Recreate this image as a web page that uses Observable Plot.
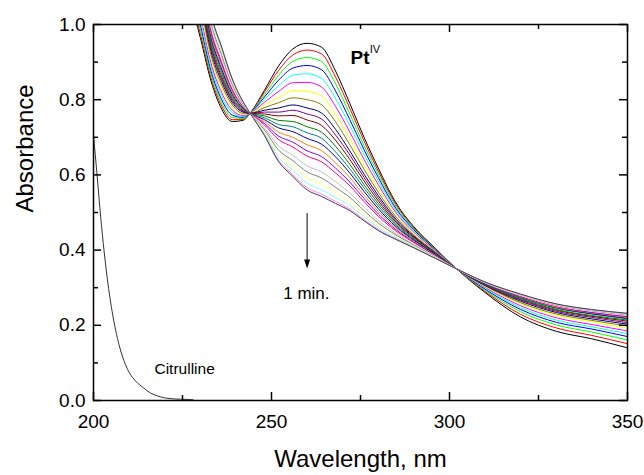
<!DOCTYPE html>
<html><head><meta charset="utf-8">
<script src="https://cdn.jsdelivr.net/npm/d3@7"></script>
<script src="https://cdn.jsdelivr.net/npm/@observablehq/plot@0.6"></script>
<style>body{margin:0;background:#fff}</style>
</head><body><div id="chart"></div>
<script>
// Wavelength grid (nm) shared by the 24 Pt(IV) spectra
const wl = [227,230,233,236,239,242,244,248,252,256,260,264,268,272,276,280,285,290,296,302,310,320,330,340,350];

// Absorbance spectra, first (t=0, black) to last (dark gray)
const s00 = [1.07,0.965,0.850,0.775,0.742,0.745,0.764,0.825,0.890,0.935,0.950,0.940,0.876,0.790,0.700,0.618,0.525,0.462,0.405,0.350,0.287,0.222,0.184,0.164,0.140];
const s01 = [1.085,0.976,0.858,0.783,0.747,0.747,0.764,0.820,0.878,0.919,0.932,0.922,0.860,0.777,0.690,0.610,0.521,0.459,0.404,0.350,0.290,0.229,0.193,0.173,0.151];
const s02 = [1.102,0.988,0.868,0.791,0.753,0.750,0.764,0.813,0.865,0.902,0.912,0.902,0.842,0.762,0.678,0.602,0.516,0.457,0.402,0.350,0.293,0.236,0.201,0.182,0.161];
const s03 = [1.120,1.000,0.877,0.800,0.759,0.753,0.764,0.807,0.852,0.884,0.891,0.880,0.823,0.747,0.667,0.593,0.510,0.454,0.401,0.350,0.296,0.242,0.208,0.190,0.170];
const s04 = [1.139,1.014,0.887,0.809,0.766,0.755,0.764,0.800,0.837,0.865,0.869,0.857,0.803,0.731,0.654,0.584,0.505,0.450,0.399,0.350,0.299,0.247,0.214,0.196,0.178];
const s05 = [1.158,1.028,0.898,0.819,0.772,0.758,0.764,0.793,0.822,0.845,0.846,0.834,0.782,0.714,0.641,0.574,0.499,0.447,0.398,0.350,0.301,0.252,0.220,0.202,0.185];
const s06 = [1.178,1.042,0.909,0.829,0.779,0.761,0.764,0.786,0.806,0.824,0.822,0.810,0.761,0.697,0.627,0.564,0.493,0.444,0.396,0.350,0.303,0.257,0.226,0.209,0.192];
const s07 = [1.197,1.056,0.919,0.839,0.786,0.764,0.764,0.779,0.792,0.805,0.800,0.787,0.741,0.680,0.615,0.554,0.488,0.440,0.395,0.350,0.305,0.260,0.230,0.213,0.198];
const s08 = [1.216,1.069,0.929,0.848,0.792,0.767,0.764,0.772,0.778,0.786,0.778,0.765,0.721,0.664,0.602,0.545,0.482,0.437,0.393,0.350,0.306,0.264,0.234,0.217,0.203];
const s09 = [1.229,1.078,0.937,0.855,0.797,0.769,0.764,0.767,0.767,0.772,0.762,0.749,0.706,0.653,0.593,0.538,0.478,0.435,0.392,0.350,0.307,0.267,0.237,0.221,0.207];
const s10 = [1.243,1.088,0.944,0.861,0.801,0.771,0.764,0.762,0.757,0.758,0.746,0.732,0.692,0.641,0.584,0.531,0.474,0.433,0.391,0.350,0.309,0.269,0.240,0.224,0.211];
const s11 = [1.258,1.099,0.952,0.869,0.806,0.774,0.764,0.757,0.745,0.742,0.728,0.714,0.676,0.628,0.574,0.524,0.470,0.430,0.390,0.350,0.309,0.271,0.242,0.226,0.214];
const s12 = [1.271,1.108,0.960,0.876,0.811,0.776,0.764,0.752,0.734,0.728,0.712,0.698,0.661,0.616,0.565,0.517,0.466,0.428,0.389,0.350,0.311,0.273,0.245,0.230,0.217];
const s13 = [1.284,1.118,0.967,0.882,0.815,0.778,0.764,0.747,0.725,0.715,0.697,0.682,0.648,0.605,0.556,0.510,0.462,0.426,0.388,0.350,0.311,0.275,0.247,0.231,0.219];
const s14 = [1.298,1.128,0.975,0.889,0.820,0.780,0.764,0.742,0.714,0.700,0.680,0.665,0.632,0.593,0.546,0.503,0.458,0.423,0.386,0.350,0.312,0.276,0.248,0.233,0.221];
const s15 = [1.312,1.137,0.982,0.896,0.825,0.782,0.764,0.737,0.703,0.687,0.664,0.649,0.618,0.581,0.537,0.496,0.454,0.421,0.385,0.350,0.312,0.277,0.250,0.234,0.223];
const s16 = [1.324,1.146,0.988,0.902,0.829,0.784,0.764,0.733,0.694,0.674,0.650,0.635,0.605,0.571,0.529,0.490,0.450,0.419,0.384,0.350,0.313,0.278,0.251,0.236,0.225];
const s17 = [1.335,1.154,0.995,0.908,0.833,0.785,0.764,0.729,0.685,0.663,0.637,0.621,0.593,0.561,0.522,0.485,0.447,0.417,0.383,0.350,0.313,0.279,0.252,0.237,0.226];
const s18 = [1.346,1.162,1.001,0.913,0.837,0.787,0.764,0.725,0.677,0.652,0.624,0.608,0.582,0.552,0.514,0.479,0.444,0.415,0.382,0.350,0.314,0.280,0.253,0.238,0.227];
const s19 = [1.359,1.171,1.008,0.920,0.841,0.789,0.764,0.720,0.666,0.638,0.608,0.592,0.567,0.540,0.505,0.472,0.440,0.413,0.381,0.350,0.314,0.281,0.254,0.239,0.228];
const s20 = [1.373,1.181,1.015,0.927,0.846,0.791,0.764,0.715,0.656,0.624,0.592,0.576,0.553,0.528,0.496,0.466,0.436,0.411,0.380,0.350,0.314,0.281,0.255,0.240,0.229];
const s21 = [1.385,1.189,1.022,0.932,0.850,0.793,0.764,0.711,0.647,0.612,0.578,0.561,0.540,0.518,0.488,0.460,0.433,0.409,0.379,0.350,0.314,0.282,0.256,0.240,0.230];
const s22 = [1.395,1.197,1.027,0.938,0.853,0.794,0.764,0.707,0.639,0.601,0.566,0.549,0.529,0.509,0.481,0.455,0.430,0.407,0.378,0.350,0.315,0.282,0.256,0.241,0.231];
const s23 = [1.40,1.20,1.03,0.94,0.855,0.795,0.764,0.705,0.635,0.596,0.560,0.543,0.524,0.505,0.478,0.452,0.428,0.406,0.378,0.350,0.315,0.283,0.257,0.242,0.232];
const series = [s00,s01,s02,s03,s04,s05,s06,s07,s08,s09,s10,s11,s12,s13,s14,s15,s16,s17,s18,s19,s20,s21,s22,s23];

// Origin default colour cycle
const colors = ["#000000","#ff0000","#00ff00","#0000ff","#00ffff","#ff00ff","#ffff00","#808000",
  "#000080","#800080","#800000","#008000","#008080","#0000a0","#ff8000","#8000ff",
  "#ff0080","#ffffff","#c0c0c0","#808080","#ffff80","#80ffff","#ff80ff","#404040"];

// Citrulline spectrum
const citWl  = [200,201,202,203,204,205,206,207,208,210,212,214,216,218,220,223,226,228];
const citAbs = [0.705,0.600,0.490,0.395,0.315,0.250,0.197,0.155,0.121,0.075,0.050,0.034,0.020,0.012,0.007,0.004,0.003,0.002];

// Axis ticks
const xMajor = [200,250,300,350];
const xMinor = [225,275,325];
const yMajor = [0,0.2,0.4,0.6,0.8,1.0];
const yMinor = [0.1,0.3,0.5,0.7,0.9];

// Annotations
const arrowX = [260], arrowFrom = [0.497], arrowTo = [0.351];
const minLabel = [{x: 259.8, y: 0.285, text: "1 min."}];
const citLabel = [{x: 225.6, y: 0.085, text: "Citrulline"}];
const ptLabel  = [{x: 272.2, y: 0.912, text: "Pt"}];
const supLabel = [{x: 277.6, y: 0.934, text: "IV"}];

const W = 644, H = 475, ML = 93, MR = 17, MT = 24, MB = 75;
const fw = W - ML - MR, fh = H - MT - MB;

const rows = series.map((s, i) => s.map((a, j) => ({wl: wl[j], a, s: i})));
const cit = citWl.map((w, j) => ({wl: w, a: citAbs[j]}));

const head = {draw(ctx) { ctx.moveTo(0, 0); ctx.lineTo(-3, -9); ctx.lineTo(3, -9); ctx.closePath(); }};

const plot = Plot.plot({
  width: W, height: H,
  marginLeft: ML, marginRight: MR, marginTop: MT, marginBottom: MB,
  style: {fontFamily: "'Liberation Sans', Arial, sans-serif", fontSize: "19px", background: "white", color: "black"},
  x: {domain: [200, 350]},
  y: {domain: [0, 1]},
  marks: [
    ...rows.map((r, i) => Plot.line(r, {x: "wl", y: "a", stroke: colors[i], strokeWidth: 1, curve: "monotone-x", clip: true})),
    Plot.line(cit, {x: "wl", y: "a", stroke: "#333", strokeWidth: 1, curve: "monotone-x", clip: true}),
    Plot.ruleX(arrowX, {x: d => d, y1: arrowFrom[0], y2: arrowTo[0] + 0.02, stroke: "black", strokeWidth: 1}),
    Plot.dot(arrowX, {x: d => d, y: arrowTo[0], symbol: head, fill: "black", stroke: "none", r: 3}),
    Plot.text(minLabel, {x: "x", y: "y", text: "text", fontSize: 17, textAnchor: "middle"}),
    Plot.text(citLabel, {x: "x", y: "y", text: "text", fontSize: 15.5, textAnchor: "middle"}),
    Plot.text(ptLabel, {x: "x", y: "y", text: "text", fontSize: 19, fontWeight: "bold", textAnchor: "start"}),
    Plot.text(supLabel, {x: "x", y: "y", text: "text", fontSize: 11, textAnchor: "start"}),
    // ticks pointing inward on all four sides
    Plot.tickX(xMajor, {x: d => d, insetTop: fh - 8, strokeWidth: 1.5}),
    Plot.tickX(xMajor, {x: d => d, insetBottom: fh - 8, strokeWidth: 1.5}),
    Plot.tickX(xMinor, {x: d => d, insetTop: fh - 5, strokeWidth: 1.5}),
    Plot.tickX(xMinor, {x: d => d, insetBottom: fh - 5, strokeWidth: 1.5}),
    Plot.tickY(yMajor, {y: d => d, insetRight: fw - 8, strokeWidth: 1.5}),
    Plot.tickY(yMajor, {y: d => d, insetLeft: fw - 8, strokeWidth: 1.5}),
    Plot.tickY(yMinor, {y: d => d, insetRight: fw - 5, strokeWidth: 1.5}),
    Plot.tickY(yMinor, {y: d => d, insetLeft: fw - 5, strokeWidth: 1.5}),
    Plot.axisX(xMajor, {tickSize: 0, tickPadding: 14, fontSize: 19, tickFormat: d => String(d), label: null}),
    Plot.axisY(yMajor, {tickSize: 0, tickPadding: 8, fontSize: 19, tickFormat: d3.format(".1f"), label: null}),
    Plot.frame({stroke: "black", strokeWidth: 1.5}),
    Plot.text(["Wavelength, nm"], {frameAnchor: "bottom", dy: 66, fontSize: 24, text: d => d}),
    Plot.text(["Absorbance"], {frameAnchor: "left", dx: -68, rotate: -90, fontSize: 24, text: d => d})
  ]
});
document.getElementById("chart").appendChild(plot);
</script></body></html>
